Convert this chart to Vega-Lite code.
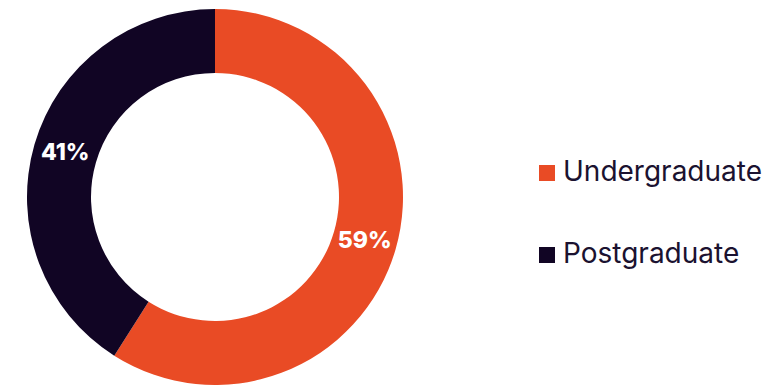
{
  "$schema": "https://vega.github.io/schema/vega-lite/v6.json",
  "width": 376,
  "height": 376,
  "autosize": "none",
  "padding": {"top": 9, "left": 27, "right": 377, "bottom": 0},
  "background": "white",
  "data": {"values": [
    {"level": "Undergraduate", "share": 59, "label": "59%", "rank": 1},
    {"level": "Postgraduate", "share": 41, "label": "41%", "rank": 2}
  ]},
  "encoding": {
    "theta": {"field": "share", "type": "quantitative", "stack": true},
    "order": {"field": "rank", "type": "quantitative"},
    "color": {
      "field": "level", "type": "nominal",
      "scale": {"domain": ["Undergraduate", "Postgraduate"], "range": ["#E94B25", "#110524"]},
      "legend": {
        "title": null,
        "orient": "none",
        "legendX": 506,
        "legendY": 150,
        "symbolType": "square",
        "symbolSize": 256,
        "symbolStrokeWidth": 0,
        "labelFontSize": 28,
        "labelFont": "Inter",
        "labelColor": "#1B1230",
        "labelOffset": 2,
        "rowPadding": 54,
        "labelLimit": 300
      }
    }
  },
  "layer": [
    {"mark": {"type": "arc", "outerRadius": 188, "innerRadius": 124}},
    {
      "mark": {"type": "text", "radius": 156, "fontSize": 23, "fontWeight": 800, "font": "Inter", "fill": "white"},
      "encoding": {"text": {"field": "label"}, "color": {"value": "white"}}
    }
  ],
  "config": {"view": {"stroke": null}}
}
